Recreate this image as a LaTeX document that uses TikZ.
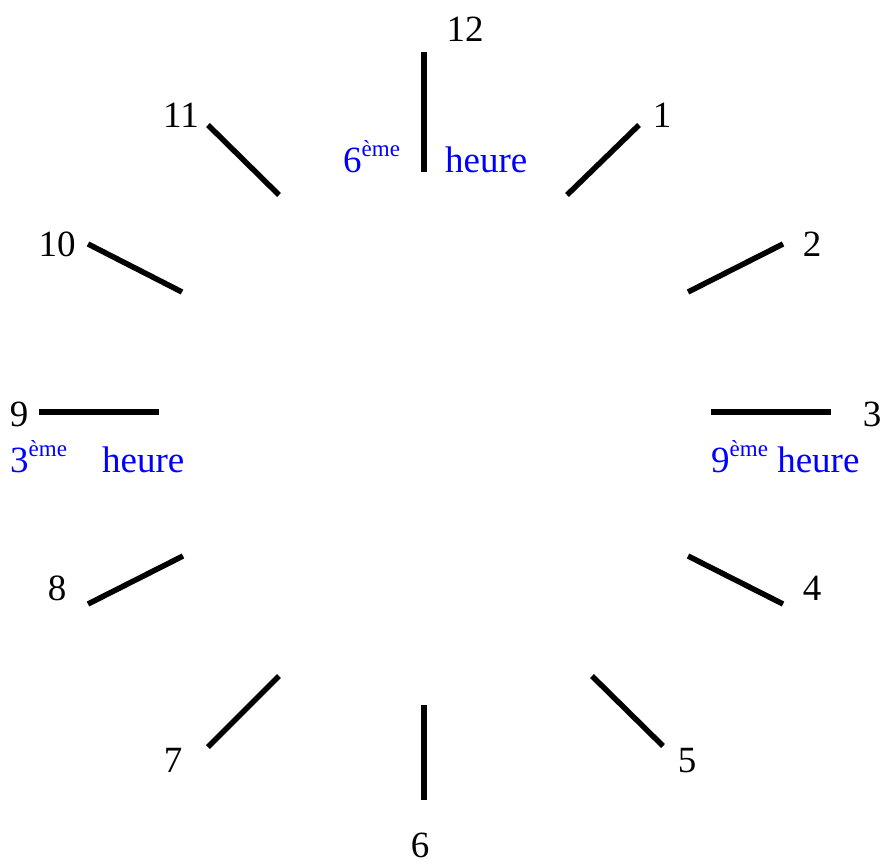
\documentclass[tikz,border=0pt]{standalone}
\usepackage{fontspec}
\setmainfont{Liberation Serif}
\usepackage{xcolor}

\newcommand{\exposant}[1]{\raisebox{0.42em}{\fontsize{23}{23}\selectfont #1}}

\begin{document}
\begin{tikzpicture}[
            x=1pt, y=-1pt,
            hourtick/.style={color=black, line width=5.5pt},
            hournum/.style={anchor=base, inner sep=0pt, font=\fontsize{37}{40}\selectfont},
            bluelabel/.style={anchor=base west, inner sep=0pt, color=blue, font=\fontsize{37}{40}\selectfont}
        ]
            \useasboundingbox (0, 0) rectangle (886, 864);

            % tick ends
            \coordinate (t12a) at (424, 52);  \coordinate (t12b) at (424, 172);
            \coordinate (t1a) at (639, 125);  \coordinate (t1b) at (567, 195);
            \coordinate (t2a) at (783, 244);  \coordinate (t2b) at (688, 292);
            \coordinate (t3a) at (831, 412);  \coordinate (t3b) at (711, 412);
            \coordinate (t4a) at (783, 604);  \coordinate (t4b) at (688, 556);
            \coordinate (t5a) at (663, 746);  \coordinate (t5b) at (592, 676);
            \coordinate (t6a) at (424, 800);  \coordinate (t6b) at (424, 705);
            \coordinate (t7a) at (208, 747);  \coordinate (t7b) at (279, 676);
            \coordinate (t8a) at (88, 604);   \coordinate (t8b) at (183, 556);
            \coordinate (t9a) at (39, 412);   \coordinate (t9b) at (159, 412);
            \coordinate (t10a) at (88, 244);  \coordinate (t10b) at (182, 292);
            \coordinate (t11a) at (208, 125); \coordinate (t11b) at (279, 195);

            % ticks
            \foreach \h in {1, 2, ..., 12}{
                \draw[hourtick] (t\h a) -- (t\h b);
            }

            % hour numbers
            \node[hournum] (n12) at (465, 42) {12};
            \node[hournum] (n1) at (662, 128) {1};
            \node[hournum] (n2) at (812, 256) {2};
            \node[hournum] (n3) at (872, 426) {3};
            \node[hournum] (n4) at (812, 600) {4};
            \node[hournum] (n5) at (687, 772) {5};
            \node[hournum] (n6) at (420, 857) {6};
            \node[hournum] (n7) at (173, 772) {7};
            \node[hournum] (n8) at (57, 600) {8};
            \node[hournum] (n9) at (19, 426) {9};
            \node[hournum] (n10) at (57, 256) {10};
            \node[hournum] (n11) at (181, 128) {11};

            % blue labels
            \node[bluelabel] (six) at (343, 172) {6\exposant{ème}};
            \node[bluelabel] (sixh) at (445, 172) {heure};
            \node[bluelabel] (three) at (10, 472) {3\exposant{ème}};
            \node[bluelabel] (threeh) at (102, 472) {heure};
            \node[bluelabel] (nine) at (711, 472) {9\exposant{ème} heure};

        \end{tikzpicture}
\end{document}
